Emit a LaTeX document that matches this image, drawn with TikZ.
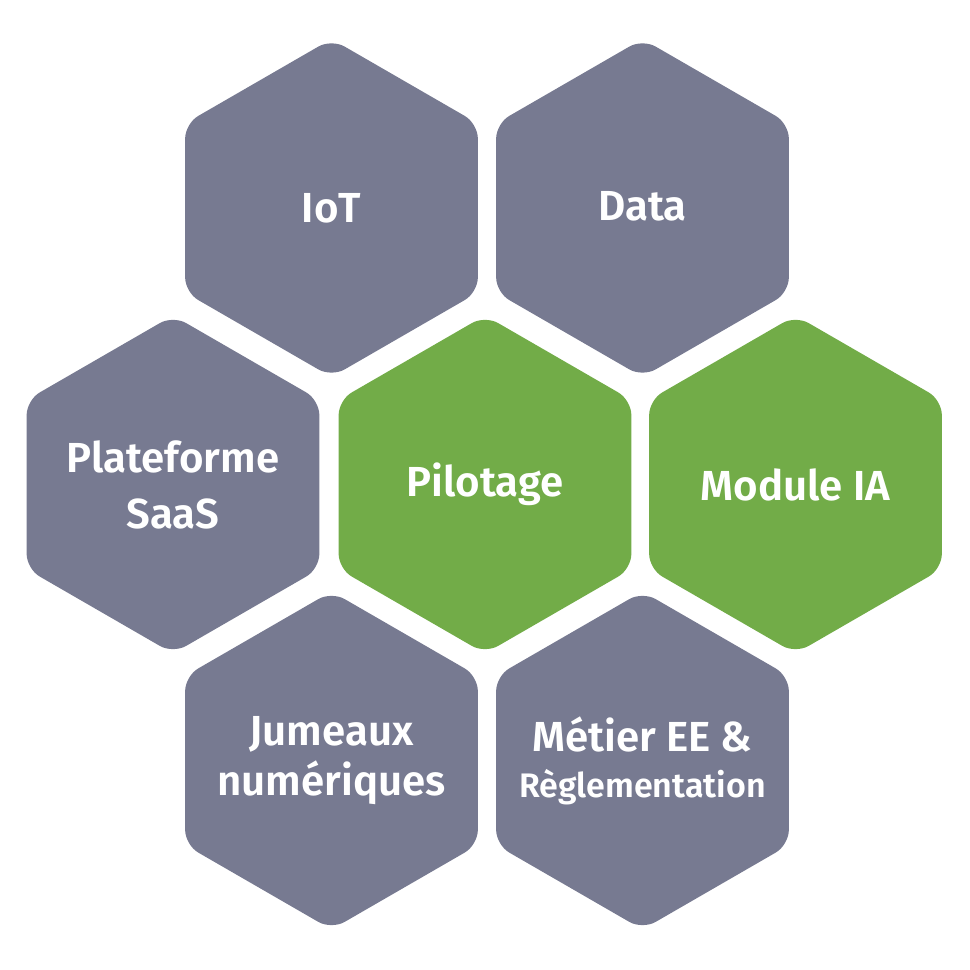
\documentclass[tikz,border=0pt]{standalone}
\usepackage{fontspec}
\setmainfont{Fira Sans}[BoldFont={Fira Sans SemiBold}]
\usetikzlibrary{calc}

\definecolor{hexgray}{HTML}{777A91}
\definecolor{hexgreen}{HTML}{72AC48}

\tikzset{
  hexcell/.style={rounded corners=15pt},
  hexlabel/.style={text=white, align=center, font=\bfseries\fontsize{42}{56}\selectfont},
}

\begin{document}
\begin{tikzpicture}[x=1pt, y=1pt]
  \def\R{169}
  \useasboundingbox (0,0) rectangle (970,970);

  % centres of the seven cells
  \foreach \name/\pos/\col in {iot/{331.5,762}/hexgray, data/{642.5,762}/hexgray,
      saas/{173,485.5}/hexgray, pilot/{485,485.5}/hexgreen, ia/{795.5,485.5}/hexgreen,
      twin/{331.5,209.5}/hexgray, metier/{642.5,209.5}/hexgray}{
    \coordinate (\name) at (\pos);
    \fill[\col, hexcell] ([shift={(90:\R)}]\name) -- ([shift={(30:\R)}]\name)
      -- ([shift={(-30:\R)}]\name) -- ([shift={(-90:\R)}]\name)
      -- ([shift={(-150:\R)}]\name) -- ([shift={(150:\R)}]\name) -- cycle;
  }

  \node[hexlabel] (iot-t) at (iot) {IoT};
  \node[hexlabel] (data-t) at ([yshift=2]data) {Data};
  \node[hexlabel] (saas-t) at (saas) {Plateforme\\SaaS};
  \node[hexlabel] (pilot-t) at (pilot) {Pilotage};
  \node[hexlabel] (ia-t) at (ia) {Module IA};
  \node[hexlabel, font=\bfseries\fontsize{42}{50}\selectfont] (twin-t) at (twin) {Jumeaux\\numériques};
  \node[hexlabel, font=\bfseries\fontsize{42}{46}\selectfont] (metier-t) at (metier)
    {Métier EE \&\\{\fontsize{34}{46}\selectfont Règlementation}};
\end{tikzpicture}
\end{document}
